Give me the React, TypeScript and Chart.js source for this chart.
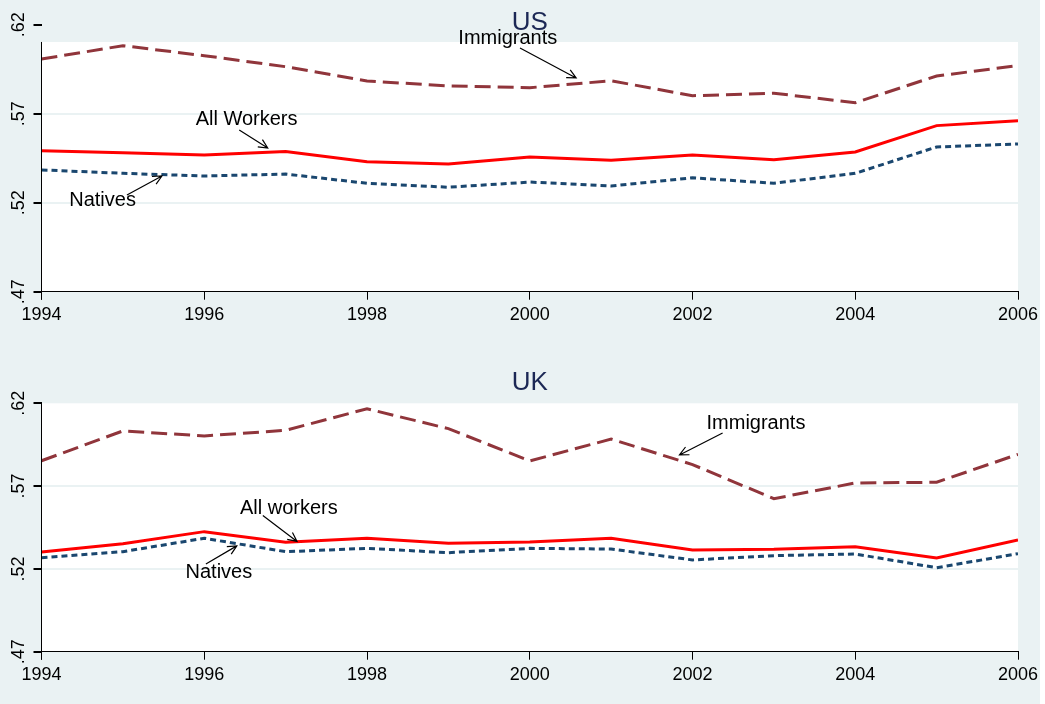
import React, { useEffect, useRef } from "react";
import { Chart, registerables } from "chart.js";

Chart.register(...registerables);

// Employment rates by group, 1994-2006
const years = [1994, 1995, 1996, 1997, 1998, 1999, 2000, 2001, 2002, 2003, 2004, 2005, 2006];

const usImmigrants = [0.6007, 0.6082, 0.6026, 0.5964, 0.5884, 0.5856, 0.5846, 0.5885, 0.5801, 0.5815, 0.5762, 0.5912, 0.597];
const usAllWorkers = [0.5492, 0.5481, 0.5468, 0.5487, 0.543, 0.5417, 0.5457, 0.5438, 0.5468, 0.5442, 0.5485, 0.5633, 0.5661];
const usNatives = [0.5384, 0.5365, 0.535, 0.5361, 0.5309, 0.5287, 0.5316, 0.5294, 0.534, 0.5309, 0.5365, 0.5513, 0.553];

const ukImmigrants = [0.5853, 0.6033, 0.6003, 0.6037, 0.6167, 0.6047, 0.5852, 0.5984, 0.583, 0.5624, 0.5719, 0.5723, 0.5892];
const ukAllWorkers = [0.5302, 0.5352, 0.5425, 0.5361, 0.5385, 0.5355, 0.5362, 0.5385, 0.5314, 0.5318, 0.5334, 0.5266, 0.5375];
const ukNatives = [0.5268, 0.5304, 0.5385, 0.5304, 0.5324, 0.5298, 0.5324, 0.532, 0.5254, 0.528, 0.529, 0.5207, 0.5292];

const xTicks = [1994, 1996, 1998, 2000, 2002, 2004, 2006];
const yTicks = [0.47, 0.52, 0.57, 0.62];
const yTickLabels = [".47", ".52", ".57", ".62"];
const gridTicks = [0.52, 0.57];

// Callout labels: text position and arrow (tail -> head) in data units
type Callout = { text: string; x: number; y: number; ax1: number; ay1: number; ax2: number; ay2: number };

const usCallouts: Callout[] = [
  { text: "Immigrants", x: 1999.73, y: 0.6125, ax1: 1999.88, ay1: 0.6069, ax2: 2000.57, ay2: 0.5901 },
  { text: "All Workers", x: 1996.52, y: 0.5665, ax1: 1996.43, ay1: 0.5608, ax2: 1996.78, ay2: 0.5507 },
  { text: "Natives", x: 1994.75, y: 0.5215, ax1: 1995.05, ay1: 0.5243, ax2: 1995.48, ay2: 0.535 },
];

const ukCallouts: Callout[] = [
  { text: "Immigrants", x: 2002.78, y: 0.6081, ax1: 2002.37, ay1: 0.6021, ax2: 2001.84, ay2: 0.5888 },
  { text: "All workers", x: 1997.04, y: 0.5562, ax1: 1996.72, ay1: 0.5522, ax2: 1997.14, ay2: 0.5366 },
  { text: "Natives", x: 1996.18, y: 0.5181, ax1: 1996.02, ay1: 0.523, ax2: 1996.4, ay2: 0.5339 },
];

const BG = "rgb(234,242,243)";
const GRID = "rgb(234,242,243)";
const MAROON = "rgb(144,53,59)";
const RED = "rgb(255,0,0)";
const NAVY = "rgb(26,71,111)";
const TITLE = "rgb(28,40,85)";
const FONT = "'Liberation Sans', Arial, sans-serif";

type PanelProps = {
  title: string;
  immigrants: number[];
  allWorkers: number[];
  natives: number[];
  callouts: Callout[];
  padTop: number;
  xAxisHeight: number;
  plotTop: number;
  titleY: number;
};

const toPoints = (vals: number[]) => years.map((yr, i) => ({ x: yr, y: vals[i] }));

function Panel(props: PanelProps) {
  const ref = useRef<HTMLCanvasElement | null>(null);

  useEffect(() => {
    const canvas = ref.current;
    if (!canvas) return;

    const decor = {
      id: "panelDecor",
      beforeDraw(chart: any) {
        const { ctx, chartArea } = chart;
        const ys = chart.scales.y;
        const top = ys.getPixelForValue(props.plotTop);
        ctx.save();
        ctx.fillStyle = "#ffffff";
        ctx.fillRect(chartArea.left, top, chartArea.right - chartArea.left, chartArea.bottom - top);
        ctx.restore();
      },
      afterDraw(chart: any) {
        const { ctx, chartArea } = chart;
        const xs = chart.scales.x;
        const ys = chart.scales.y;
        ctx.save();
        // y axis line over the plot region
        const ax = Math.floor(chartArea.left) + 0.5;
        ctx.strokeStyle = "#000";
        ctx.lineWidth = 1;
        ctx.beginPath();
        ctx.moveTo(ax, ys.getPixelForValue(props.plotTop));
        ctx.lineTo(ax, chartArea.bottom + 8);
        ctx.stroke();

        // rotated y tick labels
        ctx.fillStyle = "#000";
        ctx.font = `18px ${FONT}`;
        ctx.textAlign = "center";
        ctx.textBaseline = "middle";
        yTicks.forEach((v, i) => {
          const py = ys.getPixelForValue(v);
          ctx.save();
          ctx.translate(19, py);
          ctx.rotate(-Math.PI / 2);
          ctx.fillText(yTickLabels[i], 0, 0);
          ctx.restore();
        });

        // panel title
        ctx.fillStyle = TITLE;
        ctx.font = `26px ${FONT}`;
        ctx.fillText(props.title, (chartArea.left + chartArea.right) / 2, props.titleY);

        // callouts with arrows
        ctx.fillStyle = "#000";
        ctx.font = `20px ${FONT}`;
        props.callouts.forEach((c) => {
          ctx.fillText(c.text, xs.getPixelForValue(c.x), ys.getPixelForValue(c.y));
          const x1 = xs.getPixelForValue(c.ax1);
          const y1 = ys.getPixelForValue(c.ay1);
          const x2 = xs.getPixelForValue(c.ax2);
          const y2 = ys.getPixelForValue(c.ay2);
          const ang = Math.atan2(y2 - y1, x2 - x1);
          const head = 10;
          const spread = 0.45;
          ctx.strokeStyle = "#000";
          ctx.lineWidth = 1.2;
          ctx.beginPath();
          ctx.moveTo(x1, y1);
          ctx.lineTo(x2, y2);
          ctx.moveTo(x2 - head * Math.cos(ang - spread), y2 - head * Math.sin(ang - spread));
          ctx.lineTo(x2, y2);
          ctx.lineTo(x2 - head * Math.cos(ang + spread), y2 - head * Math.sin(ang + spread));
          ctx.stroke();
        });
        ctx.restore();
      },
    };

    const chart = new Chart(canvas, {
      type: "line",
      data: {
        datasets: [
          {
            label: "Immigrants",
            data: toPoints(props.immigrants),
            borderColor: MAROON,
            borderWidth: 3,
            borderDash: [16, 7],
            pointRadius: 0,
            tension: 0,
            fill: false,
          },
          {
            label: "Natives",
            data: toPoints(props.natives),
            borderColor: NAVY,
            borderWidth: 3,
            borderDash: [6, 4],
            pointRadius: 0,
            tension: 0,
            fill: false,
          },
          {
            label: "All workers",
            data: toPoints(props.allWorkers),
            borderColor: RED,
            borderWidth: 3,
            pointRadius: 0,
            tension: 0,
            fill: false,
          },
        ],
      },
      options: {
        animation: false,
        responsive: false,
        devicePixelRatio: 1,
        layout: { padding: { left: 0, right: 27, top: props.padTop, bottom: 0 } },
        plugins: {
          legend: { display: false },
          tooltip: { enabled: false },
          title: { display: false },
        },
        scales: {
          x: {
            type: "linear",
            min: 1994,
            max: 2006,
            afterBuildTicks: (s: any) => {
              s.ticks = xTicks.map((v) => ({ value: v }));
            },
            afterFit: (s: any) => {
              s.height = props.xAxisHeight;
            },
            ticks: {
              autoSkip: false,
              maxRotation: 0,
              minRotation: 0,
              padding: 5,
              color: "#000",
              font: { family: FONT, size: 18 },
              callback: (v: any) => String(v),
            },
            grid: {
              drawOnChartArea: false,
              tickLength: 8,
              tickColor: "#000",
              color: "#000",
            },
            border: { display: true, color: "#000", width: 1 },
          },
          y: {
            type: "linear",
            min: 0.47,
            max: 0.62,
            afterBuildTicks: (s: any) => {
              s.ticks = yTicks.map((v) => ({ value: v }));
            },
            afterFit: (s: any) => {
              s.width = 41.5;
            },
            ticks: { display: false },
            grid: {
              tickLength: 8,
              tickColor: "#000",
              lineWidth: 2,
              color: (c: any) =>
                gridTicks.some((g) => Math.abs(g - c.tick.value) < 1e-6) ? GRID : "rgba(0,0,0,0)",
            },
            border: { display: false },
          },
        },
      },
      plugins: [decor],
    } as any);

    return () => chart.destroy();
  }, []);

  return <canvas ref={ref} width={1045} height={352} style={{ display: "block", width: 1045, height: 352 }} />;
}

export default function App() {
  return (
    <div style={{ position: "absolute", left: 0, top: 0, width: 1045, height: 704, background: "#fff" }}>
      <div style={{ position: "absolute", left: 0, top: 0, width: 1040, height: 704, background: BG }} />
      <div style={{ position: "absolute", left: 0, top: 0 }}>
        <Panel
          title="US"
          immigrants={usImmigrants}
          allWorkers={usAllWorkers}
          natives={usNatives}
          callouts={usCallouts}
          padTop={24.7}
          xAxisHeight={60.3}
          plotTop={0.6103}
          titleY={23}
        />
      </div>
      <div style={{ position: "absolute", left: 0, top: 352 }}>
        <Panel
          title="UK"
          immigrants={ukImmigrants}
          allWorkers={ukAllWorkers}
          natives={ukNatives}
          callouts={ukCallouts}
          padTop={51.3}
          xAxisHeight={52.3}
          plotTop={0.62}
          titleY={31}
        />
      </div>
    </div>
  );
}
